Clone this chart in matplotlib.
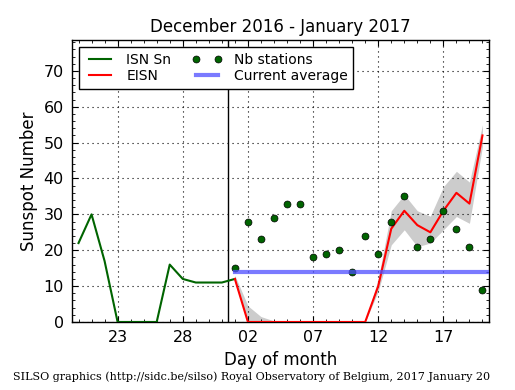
import numpy as np
import pandas as pd
import matplotlib
matplotlib.use('Agg')
import matplotlib.pyplot as plt
import matplotlib.dates as mdates
from matplotlib.ticker import MultipleLocator, FixedLocator

# daily total sunspot number, end of previous month
isn_dates = pd.date_range('2016-12-20', '2017-01-01', freq='D')
isn = [22, 30, 17, 0, 0, 0, 0, 16, 12, 11, 11, 11, 12]

# estimated ISN for the current month
eisn_dates = pd.date_range('2017-01-01', '2017-01-20', freq='D')
eisn = [12, 0, 0, 0, 0, 0, 0, 0, 0, 0, 0, 10, 26, 31, 27, 25, 31, 36, 33, 52]
eisn_lo = [11, 0, 0, 0, 0, 0, 0, 0, 0, 0, 0, 8.5, 21.5, 25.7, 21, 22, 25.7, 29.4, 27.5, 49]
eisn_hi = [13, 4.5, 1.5, 0.3, 0, 0, 0, 0, 0, 0, 0, 12, 31, 35.5, 31, 29.5, 37.7, 42, 39, 55]
nb_stations = [15, 28, 23, 29, 33, 33, 18, 19, 20, 14, 24, 19, 28, 35, 21, 23, 31, 26, 21, 9]
current_avg = 14

x0 = pd.Timestamp('2016-12-19 12:00')
x1 = pd.Timestamp('2017-01-20 12:00')
month_edge = pd.Timestamp('2016-12-31 12:00')
major_days = pd.date_range('2016-12-23', periods=6, freq='5D')

fig = plt.figure(figsize=(5.15, 3.9), dpi=100)
ax = fig.add_axes([0.1398, 0.1744, 0.8097, 0.7230])

ax.fill_between(eisn_dates, eisn_lo, eisn_hi, color='0.8', lw=0, zorder=1)
ax.plot(isn_dates, isn, color='#006400', lw=1.5, label='ISN Sn', zorder=3)
ax.plot(eisn_dates, eisn, color='red', lw=1.5, label='EISN', zorder=3)
ax.plot(eisn_dates, nb_stations, 'o', color='#006400', mec='black', mew=0.5,
        ms=5, label='Nb stations', zorder=4)
ax.plot([eisn_dates[0], x1], [current_avg, current_avg], color=(0.3, 0.3, 1.0),
        alpha=0.75, lw=3, label='Current average', zorder=5)
ax.axvline(month_edge, color='black', lw=1, zorder=2)

ax.set_xlim(x0, x1)
ax.set_ylim(0, 78.6)

ax.xaxis.set_major_locator(FixedLocator(mdates.date2num(major_days)))
ax.xaxis.set_minor_locator(mdates.DayLocator())
ax.xaxis.set_major_formatter(mdates.DateFormatter('%d'))
ax.yaxis.set_major_locator(MultipleLocator(10))
ax.yaxis.set_minor_locator(MultipleLocator(2))

ax.tick_params(which='both', direction='in', top=True, right=True, labelsize=11.5)
ax.tick_params(which='major', length=4, pad=6)
ax.tick_params(which='minor', length=2)
ax.grid(True, which='major', color='black', ls=(0, (1, 3.5)), lw=0.8)
for s in ax.spines.values():
    s.set_linewidth(1)

ax.set_title('December 2016 - January 2017', fontsize=12, pad=6)
ax.set_xlabel('Day of month', fontsize=12)
ax.set_ylabel('Sunspot Number', fontsize=12)

leg = ax.legend(loc='upper left', ncol=2, numpoints=2, fontsize=10,
                fancybox=False, framealpha=1, edgecolor='black',
                borderaxespad=0.5, handlelength=2.2, columnspacing=1.5,
                labelspacing=0.2, borderpad=0.4)
leg.get_frame().set_linewidth(1)

fig.text(0.025, 0.035, 'SILSO graphics (http://sidc.be/silso) Royal Observatory of Belgium, 2017 January 20',
         family='DejaVu Serif', fontsize=8, ha='left', va='center')

fig.savefig('out.png', dpi=100, facecolor='white')
